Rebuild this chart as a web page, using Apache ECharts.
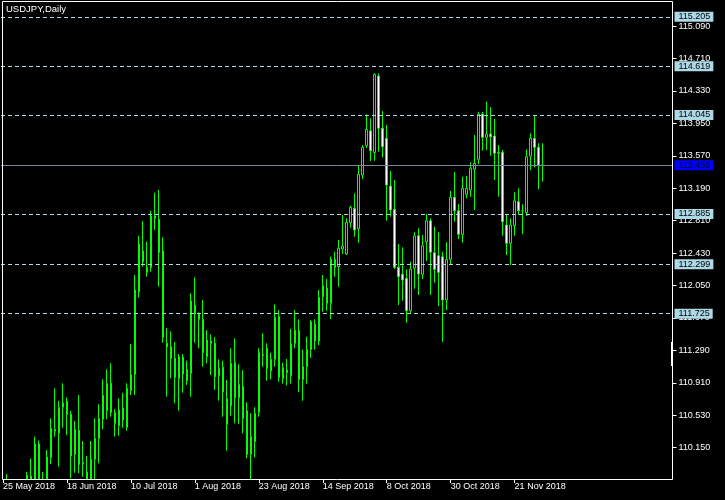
<!DOCTYPE html>
<html>
<head>
<meta charset="utf-8">
<script src="https://cdn.jsdelivr.net/npm/echarts@6/dist/echarts.min.js"></script>
<style>
html,body{margin:0;padding:0;background:#000;}
#chart{width:725px;height:500px;}
</style>
</head>
<body>
<div id="chart"></div>
<script>
// ---- data (USDJPY daily) ----
const opens = [109.45,109.42,109.37,108.75,108.82,108.80,109.50,109.818,109.70,110.193,
109.72,109.55,110.033,110.342,110.319,110.623,110.697,110.541,110.072,110.354,
109.959,109.862,109.70,110.014,110.260,110.483,110.583,110.904,110.560,110.408,
110.612,110.389,110.818,111.010,111.978,112.455,112.205,112.259,112.865,112.826,
112.455,111.373,111.333,111.197,110.963,111.209,110.935,111.022,111.822,111.717,
111.654,111.216,111.400,111.373,110.993,111.092,110.424,110.642,111.146,110.736,
110.865,110.583,110.073,110.220,110.565,111.240,111.315,111.049,111.186,111.685,
110.963,111.029,110.994,111.526,111.521,110.95,111.10,111.30,111.596,111.40,
111.919,112.018,111.842,112.357,112.271,112.478,112.420,112.786,112.955,112.716,
113.345,113.689,113.864,113.611,114.505,113.893,113.775,113.216,112.943,112.264,
112.182,112.135,111.755,112.252,112.634,112.182,112.564,112.810,112.435,112.400,
112.388,111.881,112.357,113.084,112.927,112.650,113.119,113.170,113.412,113.529,
114.060,113.787,113.826,113.802,113.600,113.611,112.760,112.545,112.751,113.032,
112.927,112.904,113.568,113.775,113.670,113.463];
const closes = [109.40,109.37,108.75,108.82,108.80,109.50,109.826,109.70,110.193,109.72,
109.55,110.041,110.377,110.365,110.623,110.674,110.541,110.056,110.365,109.955,
109.979,109.70,110.014,110.260,110.494,110.764,110.904,110.565,110.436,110.592,
110.474,110.846,111.002,111.998,112.537,112.329,112.264,112.865,112.838,112.440,
111.443,111.333,111.197,110.975,111.216,111.013,111.068,111.869,111.717,111.654,
111.263,111.412,111.373,110.982,111.080,110.806,110.729,111.139,110.736,110.893,
110.494,110.073,110.279,110.553,111.268,111.232,111.080,111.186,111.678,110.975,
111.092,111.060,111.365,111.373,110.95,111.10,111.30,111.626,111.40,111.912,
112.048,111.842,112.361,112.264,112.486,112.513,112.791,112.967,112.701,113.354,
113.670,113.881,113.630,114.525,113.893,113.677,113.228,112.935,112.264,112.154,
112.115,111.755,112.240,112.631,112.185,112.517,112.810,112.440,112.240,112.205,
111.881,112.357,113.084,112.927,112.650,113.189,113.189,113.424,113.482,114.060,
113.787,113.826,113.794,113.600,113.610,112.798,112.545,112.760,113.044,112.927,
112.927,113.560,113.775,113.670,113.463,113.459];
const lows = [108.95,109.15,108.11,108.40,108.55,108.70,109.40,109.55,109.62,109.60,
109.20,109.50,109.959,110.279,109.927,110.384,110.299,109.79,109.857,109.850,
109.810,109.55,109.60,109.75,109.967,110.365,110.483,110.513,110.279,110.290,
110.384,110.349,110.767,110.767,111.908,112.271,112.154,112.212,112.701,112.036,
111.380,110.747,110.963,110.670,110.583,110.794,110.885,110.747,111.380,111.315,
111.099,111.139,111.002,110.826,110.701,110.513,110.115,110.525,110.436,110.428,
110.318,110.026,109.77,110.037,110.513,111.099,110.935,110.951,111.099,110.923,
110.90,110.88,110.90,111.315,110.80,110.70,110.90,111.20,111.30,111.35,
111.743,111.755,111.658,112.154,112.036,112.420,112.408,112.728,112.622,112.552,
113.298,113.662,113.509,113.513,113.618,113.553,112.810,112.857,112.244,111.822,
111.872,111.615,111.725,112.013,111.939,112.127,112.338,111.939,112.083,111.810,
111.388,111.763,112.302,112.798,112.595,112.552,113.072,113.091,112.935,113.474,
113.630,113.638,113.571,113.287,113.091,112.634,112.408,112.291,112.634,112.877,
112.654,112.865,113.404,113.436,113.178,113.267];
const highs = [109.70,109.84,109.50,109.12,109.10,109.70,109.865,110.021,110.279,110.232,
109.865,110.123,110.494,110.846,110.697,110.904,110.740,110.583,110.463,110.767,
110.228,110.053,110.228,110.494,110.658,110.951,111.068,111.139,110.600,110.729,
110.794,110.904,111.365,112.173,112.634,112.806,112.564,112.927,113.138,113.170,
112.615,111.553,111.514,111.388,111.248,111.248,111.169,111.959,112.147,111.736,
111.881,111.529,111.479,111.443,111.186,111.169,110.943,111.315,111.432,111.127,
111.060,110.682,110.553,110.623,111.315,111.490,111.373,111.263,111.830,111.763,
111.146,111.189,111.541,111.763,111.654,111.30,111.45,111.646,111.654,111.998,
112.173,112.127,112.388,112.447,112.584,112.877,112.838,112.986,113.131,113.451,
113.697,114.057,114.010,114.537,114.537,114.095,113.931,113.392,113.287,112.537,
112.498,112.240,112.329,112.674,112.721,112.642,112.888,112.838,112.740,112.674,
112.447,112.560,113.158,113.380,113.006,113.325,113.334,113.494,113.814,114.087,
114.085,114.204,114.142,114.002,113.697,113.638,112.888,112.838,113.143,113.190,
113.002,113.646,113.834,114.037,113.717,113.717];

const dateTickLabels = ['25 May 2018','18 Jun 2018','10 Jul 2018','1 Aug 2018','23 Aug 2018',
  '14 Sep 2018','8 Oct 2018','30 Oct 2018','21 Nov 2018'];
const priceTickValues = [110.150,110.530,110.910,111.290,111.670,112.050,112.430,112.810,
  113.190,113.570,113.950,114.330,114.710,115.090];
const levelLines = [115.205,114.619,114.045,112.885,112.299,111.725];
const bidPrice = 113.459;
const title = 'USDJPY,Daily';

// ---- build ----
const SLOTS = 168;     // visible bar slots across the plot
const BARS_PER_LABEL = 16;
const categories = [];
for (let i = 0; i < SLOTS; i++) categories.push(String(i));
const ohlc = opens.map((o, i) => [o, closes[i], lows[i], highs[i]]);

const FONT = 'Liberation Sans';
const GREEN = '#00ff00';
const LINEBLUE = '#add8e6';

const isLabelIdx = (idx) => idx % BARS_PER_LABEL === 0 && idx / BARS_PER_LABEL < dateTickLabels.length;

const markData = levelLines.map(v => ({
  name: v.toFixed(3),
  yAxis: v,
  lineStyle: {type: [4, 3], color: LINEBLUE, width: 1},
  label: {backgroundColor: LINEBLUE, color: '#000'}
}));
markData.push({
  name: bidPrice.toFixed(3),
  yAxis: bidPrice,
  lineStyle: {type: 'solid', color: '#778899', width: 1},
  label: {backgroundColor: '#0000ff', color: '#000020'}
});

const chart = echarts.init(document.getElementById('chart'), null, {renderer: 'canvas'});
chart.setOption({
  animation: false,
  backgroundColor: '#000',
  textStyle: {fontFamily: FONT},
  title: {
    text: title, left: 6, top: 4, padding: 0,
    textStyle: {color: '#fff', fontSize: 9.5, fontWeight: 'normal', fontFamily: FONT}
  },
  grid: {left: 0.5, right: 52.5, top: 2, bottom: 21, show: false},
  xAxis: {
    type: 'category',
    z: 60,
    data: categories,
    boundaryGap: true,
    axisLine: {show: false},
    axisTick: {show: true, alignWithLabel: true, length: 4, interval: (idx) => isLabelIdx(idx),
      lineStyle: {color: '#fff'}},
    axisLabel: {
      interval: (idx) => isLabelIdx(idx),
      formatter: (val, idx) => isLabelIdx(idx) ? dateTickLabels[idx / BARS_PER_LABEL] : '',
      color: '#fff', fontSize: 9, fontFamily: FONT, align: 'left', margin: 3
    },
    splitLine: {show: false}
  },
  yAxis: {
    type: 'value',
    z: 60,
    position: 'right',
    min: 109.783,
    max: 115.373,
    scale: true,
    axisLine: {show: false},
    axisTick: {show: true, length: 4, customValues: priceTickValues, lineStyle: {color: '#fff'}},
    axisLabel: {
      customValues: priceTickValues,
      formatter: (v) => v.toFixed(3),
      color: '#fff', fontSize: 9, fontFamily: FONT, margin: 6
    },
    splitLine: {show: false}
  },
  series: [{
    type: 'candlestick',
    data: ohlc,
    barWidth: 2,
    clip: true,
    silent: true,
    itemStyle: {
      color: '#000', color0: '#fff',
      borderColor: GREEN, borderColor0: GREEN, borderColorDoji: GREEN,
      borderWidth: 1
    },
    markLine: {
      silent: true,
      symbol: ['none', 'none'],
      animation: false,
      z: 70,
      label: {
        show: true, position: 'end', distance: 2,
        formatter: '{b}',
        fontSize: 9, fontFamily: FONT,
        padding: [1, 3, 0, 4]
      },
      data: markData
    }
  }, {
    type: 'line',
    data: [],
    silent: true,
    markLine: {
      silent: true,
      symbol: ['none', 'none'],
      animation: false,
      label: {show: false},
      data: [{yAxis: bidPrice, lineStyle: {type: [4, 3], color: '#0000ff', width: 1}}]
    }
  }],
  graphic: [{
    type: 'rect',
    silent: true,
    z: 50,
    shape: {x: 0, y: 480, width: 725, height: 20},
    style: {fill: '#000'}
  }, {
    type: 'polyline',
    silent: true,
    z: 100,
    shape: {points: [[2.5, 479.5], [2.5, 1.5], [672.5, 1.5], [672.5, 479.5], [2.5, 479.5]]},
    style: {stroke: '#fff', fill: null, lineWidth: 1}
  }, {
    type: 'rect',
    silent: true,
    z: 100,
    shape: {x: 671, y: 342, width: 2, height: 24},
    style: {fill: '#fff'}
  }]
});
</script>
</body>
</html>
